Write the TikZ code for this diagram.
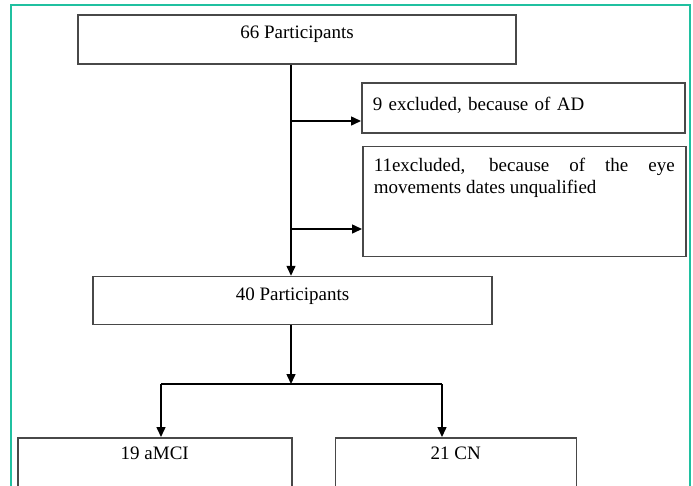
\documentclass[tikz,border=0pt]{standalone}
\usepackage{fontspec}
\setmainfont{Liberation Serif}
\usepackage{xcolor}
\usepackage{tikz}
\usetikzlibrary{arrows.meta, positioning}

\definecolor{frameteal}{RGB}{32,192,160}
\definecolor{boxgray}{RGB}{72,72,72}
\newcommand{\flowfont}{\fontsize{19}{22}\selectfont}
\newcommand{\nohyph}{\hyphenpenalty=10000\relax}

\begin{document}
\begin{tikzpicture}[
    x=1pt, y=-1pt,
    box/.style={rectangle, draw=boxgray, line width=1.5pt, inner sep=0pt, align=center, font=\flowfont},
    note/.style={box, text width=301pt, inner xsep=11pt, align=left, font=\flowfont\nohyph},
    arrow/.style={-{Triangle[length=10pt, width=9pt]}, line width=1.5pt},
]
\useasboundingbox (0,0) rectangle (693,485);
\clip (0,0) rectangle (693,485);
\draw[frameteal, line width=2pt] (11,5) rectangle (690,520);

\node[box, minimum width=438pt, text height=23pt, text depth=26pt] (top) at (297,39.5) {66 Participants};
\node[box, minimum width=399pt, text height=24pt, text depth=24pt, below=211pt of top, xshift=-4.5pt] (mid) {40 Participants};
\node[note, text height=28pt, text depth=22pt, anchor=north west] (ad) at (361,82) {9 excluded, because of AD};
\node[note, align=justify, text height=25pt, text depth=85pt, below=12pt of ad, xshift=1pt] (eye) {11excluded, because of the eye movements dates unqualified};
\node[box, minimum width=274pt, text height=22pt, text depth=70pt, anchor=north west] (amci) at (17,437) {19 aMCI};
\node[box, minimum width=241pt, text height=22pt, text depth=70pt, right=42pt of amci] (cn) {21 CN};

\coordinate (b1) at (291,121);
\coordinate (b2) at (291,229);
\coordinate (split) at (291,384);
\coordinate (la) at (161,384);
\coordinate (ra) at (442,384);

\draw[arrow] (top.south -| split) -- (mid.north -| split);
\draw[arrow] (b1) -- (b1 -| ad.west);
\draw[arrow] (b2) -- (b2 -| eye.west);
\draw[arrow] (mid.south -| split) -- (split);
\draw[line width=1.5pt] (la) -- (ra);
\draw[arrow] (la) -- (la |- amci.north);
\draw[arrow] (ra) -- (ra |- cn.north);

\end{tikzpicture}
\end{document}
